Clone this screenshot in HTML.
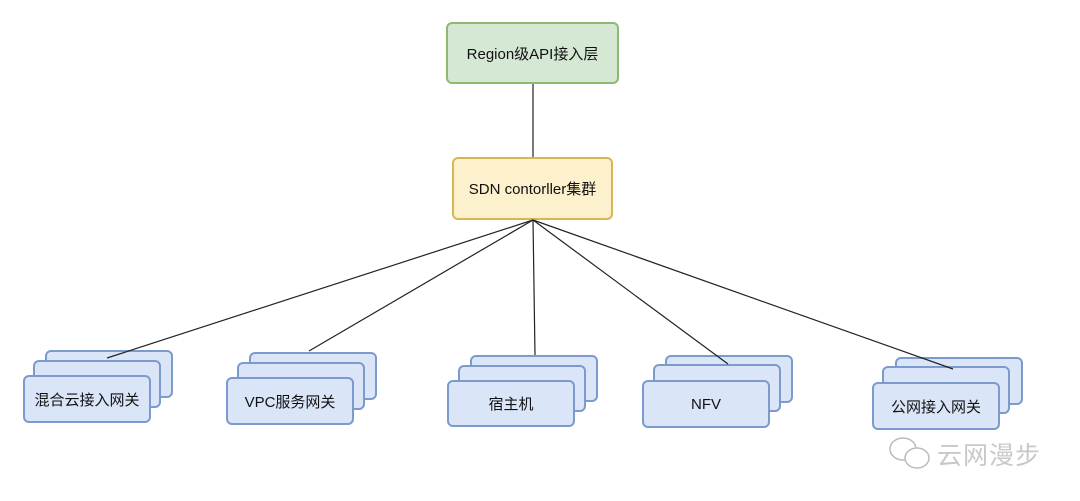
<!DOCTYPE html>
<html><head><meta charset="utf-8"><style>
html,body{margin:0;padding:0;background:#fff;width:1080px;height:501px;overflow:hidden;position:relative;font-family:"Liberation Sans","Noto Sans CJK SC",sans-serif;}
.b{position:absolute;box-sizing:border-box;border:2px solid #7c9acb;background:#dae6f8;border-radius:6px;display:flex;align-items:center;justify-content:center;font-size:15px;color:#111;}
svg{position:absolute;left:0;top:0;}
</style></head><body>
<div class="b" style="left:446px;top:22px;width:173px;height:62px;background:#d5e8d4;border-color:#8fb870;">Region级API接入层</div>
<div class="b" style="left:452px;top:157px;width:161px;height:63px;background:#fcf0cd;border-color:#d6b656;">SDN contorller集群</div>

<div class="b" style="left:45px;top:350px;width:128px;height:48px"></div>
<div class="b" style="left:33px;top:360px;width:128px;height:48px"></div>
<div class="b" style="left:23px;top:375px;width:128px;height:48px">混合云接入网关</div>

<div class="b" style="left:249px;top:352px;width:128px;height:48px"></div>
<div class="b" style="left:237px;top:362px;width:128px;height:48px"></div>
<div class="b" style="left:226px;top:377px;width:128px;height:48px">VPC服务网关</div>

<div class="b" style="left:470px;top:355px;width:128px;height:47px"></div>
<div class="b" style="left:458px;top:365px;width:128px;height:47px"></div>
<div class="b" style="left:447px;top:380px;width:128px;height:47px">宿主机</div>

<div class="b" style="left:665px;top:355px;width:128px;height:48px"></div>
<div class="b" style="left:653px;top:364px;width:128px;height:48px"></div>
<div class="b" style="left:642px;top:380px;width:128px;height:48px">NFV</div>

<div class="b" style="left:895px;top:357px;width:128px;height:48px"></div>
<div class="b" style="left:882px;top:366px;width:128px;height:48px"></div>
<div class="b" style="left:872px;top:382px;width:128px;height:48px">公网接入网关</div>

<svg width="1080" height="501">
<g stroke="#222" stroke-width="1.2">
<line x1="533" y1="84" x2="533" y2="157"/>
<line x1="533" y1="220" x2="107" y2="358"/>
<line x1="533" y1="220" x2="309" y2="351"/>
<line x1="533" y1="220" x2="535" y2="355"/>
<line x1="533" y1="220" x2="728" y2="364"/>
<line x1="533" y1="220" x2="953" y2="369"/>
</g>
<g fill="#fff" stroke="#bbb" stroke-width="1.5">
<ellipse cx="903" cy="449" rx="13" ry="11"/>
<ellipse cx="917" cy="458" rx="12" ry="10"/>
</g>
</svg>
<div style="position:absolute;left:937px;top:436px;font-size:25px;color:#c8c8c8;font-family:'Noto Sans CJK SC',sans-serif;letter-spacing:1px;">云网漫步</div>
</body></html>
